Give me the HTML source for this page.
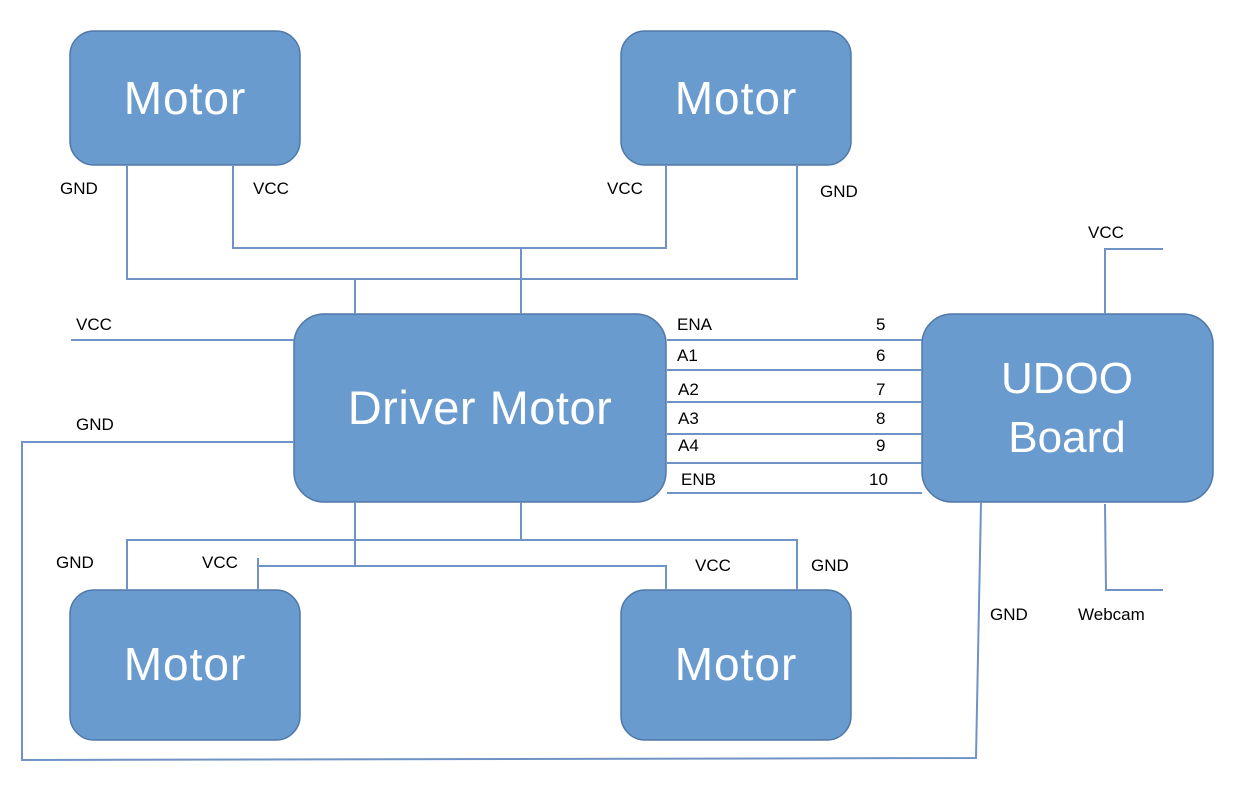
<!DOCTYPE html>
<html><head><meta charset="utf-8"><style>
html,body{margin:0;padding:0;background:#fff;}
svg{display:block;}
text{font-family:"Liberation Sans",sans-serif;}
.l{font-size:17px;fill:#000;}
.b{font-size:46px;fill:#fff;text-anchor:middle;}
</style></head><body>
<svg width="1245" height="803" viewBox="0 0 1245 803" xmlns="http://www.w3.org/2000/svg">
<g fill="#6a9bcf" stroke="#4f78a8" stroke-width="1.5">
<rect x="70" y="31" width="230" height="134" rx="24"/>
<rect x="621" y="31" width="230" height="134" rx="24"/>
<rect x="294" y="314" width="372" height="188" rx="30"/>
<rect x="922" y="314" width="291" height="188" rx="30"/>
<rect x="70" y="590" width="230" height="150" rx="24"/>
<rect x="621" y="590" width="230" height="150" rx="24"/>
</g>
<g stroke="#6f93c4" stroke-width="2" fill="none">
<polyline points="127,166 127,279 797,279 797,166"/>
<polyline points="233,166 233,248 666,248 666,166"/>
<line x1="521" y1="248" x2="521" y2="314"/>
<line x1="355" y1="279" x2="355" y2="314"/>
<line x1="71" y1="340" x2="294" y2="340"/>
<polyline points="294,442 22,442 22,760 976,758 981,503"/>
<line x1="667" y1="340" x2="922" y2="340"/>
<line x1="667" y1="370" x2="922" y2="370"/>
<line x1="667" y1="402" x2="922" y2="402"/>
<line x1="667" y1="434" x2="922" y2="434"/>
<line x1="667" y1="463" x2="922" y2="463"/>
<line x1="667" y1="493" x2="922" y2="493"/>
<line x1="355" y1="502" x2="355" y2="566"/>
<line x1="521" y1="502" x2="521" y2="540"/>
<polyline points="127,590 127,540 797,540 797,590"/>
<polyline points="258,590 258,558"/>
<polyline points="258,566 666,566 666,590"/>
<polyline points="1163,249 1105,249 1105,314"/>
<polyline points="1105,504 1106,590 1163,590"/>
</g>
<text class="b" x="185" y="114" style="letter-spacing:1px">Motor</text>
<text class="b" x="736" y="114" style="letter-spacing:1px">Motor</text>
<text class="b" x="185" y="680" style="letter-spacing:1px">Motor</text>
<text class="b" x="736" y="680" style="letter-spacing:1px">Motor</text>
<text class="b" x="480" y="424" style="font-size:47px;letter-spacing:0.5px">Driver Motor</text>
<text class="b" x="1067" y="393" style="font-size:44px">UDOO</text>
<text class="b" x="1067" y="452" style="font-size:44px">Board</text>
<g class="l">
<text x="60" y="194" class="l">GND</text>
<text x="253" y="194" class="l">VCC</text>
<text x="607" y="194" class="l">VCC</text>
<text x="820" y="197" class="l">GND</text>
<text x="1088" y="238" class="l">VCC</text>
<text x="76" y="330" class="l">VCC</text>
<text x="76" y="430" class="l">GND</text>
<text x="56" y="568" class="l">GND</text>
<text x="202" y="568" class="l">VCC</text>
<text x="695" y="571" class="l">VCC</text>
<text x="811" y="571" class="l">GND</text>
<text x="990" y="620" class="l">GND</text>
<text x="1078" y="620" class="l">Webcam</text>
<text x="677" y="330" class="l">ENA</text>
<text x="677" y="361" class="l">A1</text>
<text x="678" y="395" class="l">A2</text>
<text x="678" y="424" class="l">A3</text>
<text x="678" y="451" class="l">A4</text>
<text x="681" y="485" class="l">ENB</text>
<text x="876" y="330" class="l">5</text>
<text x="876" y="361" class="l">6</text>
<text x="876" y="395" class="l">7</text>
<text x="876" y="424" class="l">8</text>
<text x="876" y="451" class="l">9</text>
<text x="869" y="485" class="l">10</text>
</g>
</svg>
</body></html>
